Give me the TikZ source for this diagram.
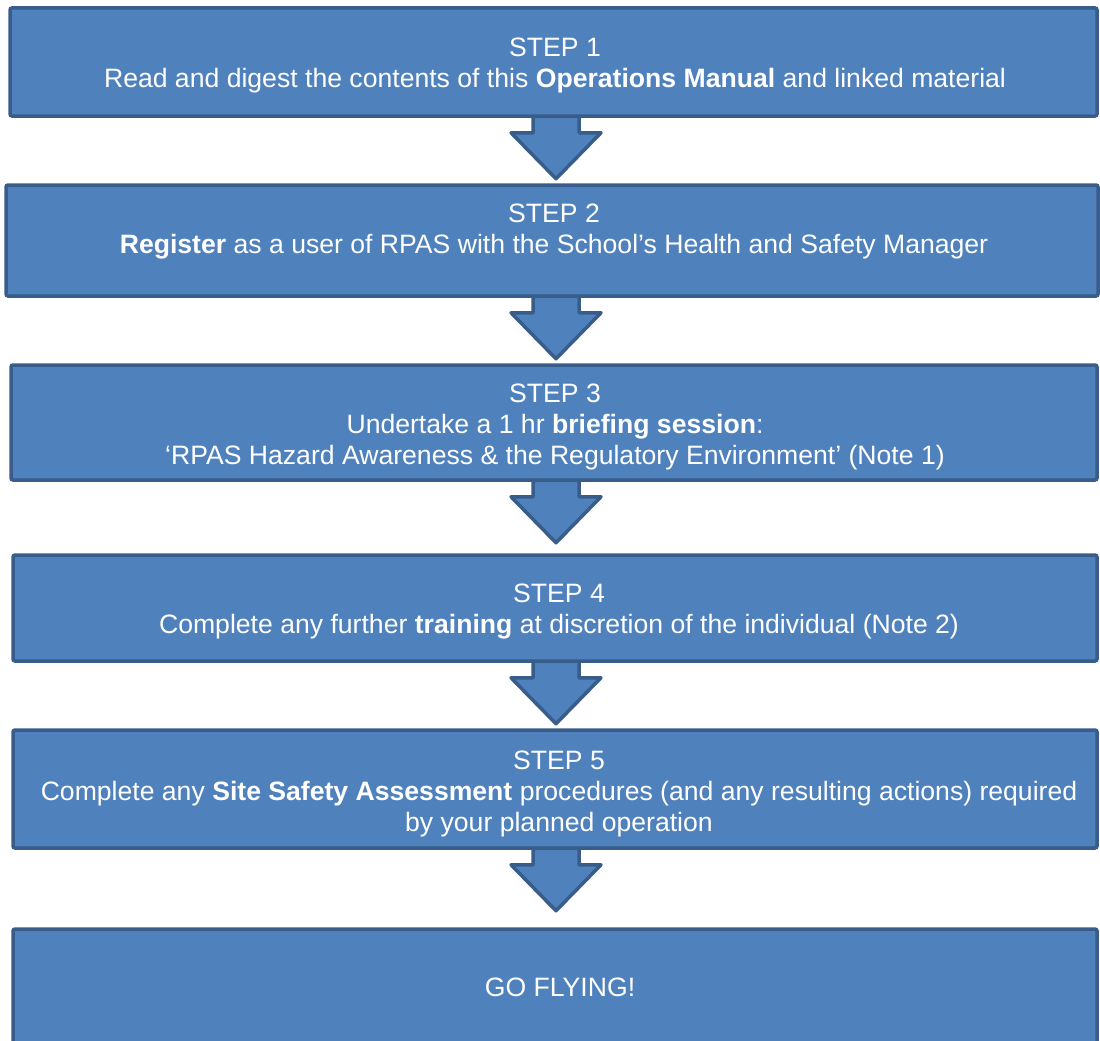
\documentclass[tikz,border=0pt]{standalone}
\usepackage{fontspec}
\setmainfont{Liberation Sans}
\usetikzlibrary{positioning, calc, backgrounds}
\definecolor{stepfill}{HTML}{4F81BD}
\definecolor{stepline}{HTML}{385D8A}

% block arrow from the bottom of one box down towards the next
\newcommand{\flowarrow}[1]{%
  \path let \p1 = (ax |- #1.south) in
    [arrowblock] ({\x1-23pt},{\y1+6pt}) -- ({\x1-23pt},{\y1-15pt})
      -- ({\x1-45pt},{\y1-15pt}) -- ({\x1},{\y1-61pt})
      -- ({\x1+45pt},{\y1-15pt}) -- ({\x1+23pt},{\y1-15pt})
      -- ({\x1+23pt},{\y1+6pt}) -- cycle;}

\begin{document}
\begin{tikzpicture}[
    x=1pt,
    y=-1pt,
    stepbox/.style={rectangle, draw=stepline, fill=stepfill, line width=3.5pt, rounded corners=2pt, inner sep=0pt},
    steptext/.style={text=white, align=center, inner sep=0pt, font=\fontsize{26.6}{31}\selectfont},
    arrowblock/.style={draw=stepline, fill=stepfill, line width=3.5pt, line join=round}
  ]

  \useasboundingbox (0,0) rectangle (1100,1041);
  \clip (0,0) rectangle (1100,1041);

  % --- BOXES ---
  \node[stepbox, minimum width=1087, minimum height=108] (s1) at (553.5,62) {};
  \node[stepbox, minimum width=1092, minimum height=111] (s2) at (552,240.5) {};
  \node[stepbox, minimum width=1086, minimum height=115] (s3) at (554,422.5) {};
  \node[stepbox, minimum width=1084, minimum height=106] (s4) at (555,608) {};
  \node[stepbox, minimum width=1084, minimum height=118] (s5) at (555,789) {};
  \node[stepbox, minimum width=1084, minimum height=126] (go) at (555,992) {};

  % --- TEXTS ---
  \node[steptext] (t1) at (555,65) {STEP 1\\Read and digest the contents of this \textbf{Operations Manual} and linked material};
  \node[steptext] (t2) at (554,232) {STEP 2\\\textbf{Register} as a user of RPAS with the School’s Health and Safety Manager};
  \node[steptext] (t3) at (555,427) {STEP 3\\Undertake a 1 hr \textbf{briefing session}:\\‘RPAS Hazard Awareness \& the Regulatory Environment’ (Note 1)};
  \node[steptext] (t4) at (559,612) {STEP 4\\Complete any further \textbf{training} at discretion of the individual (Note 2)};
  \node[steptext] (t5) at (559,794) {STEP 5\\Complete any \textbf{Site Safety Assessment} procedures (and any resulting actions) required\\by your planned operation};
  \node[steptext] (tgo) at (560,987) {GO FLYING!};

  % --- ARROWS (behind the boxes) ---
  \coordinate (ax) at (556,0);
  \begin{pgfonlayer}{background}
    \foreach \s in {s1, s2, s3, s4, s5}
      \flowarrow{\s};
  \end{pgfonlayer}

\end{tikzpicture}
\end{document}
